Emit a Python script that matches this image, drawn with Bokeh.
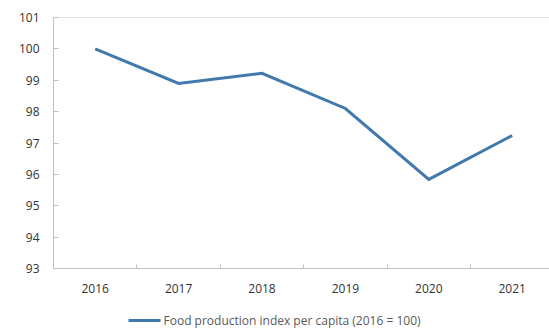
from bokeh.plotting import figure
from bokeh.layouts import column
from bokeh.models import FixedTicker, LinearAxis, Range1d, Span
from bokeh.core.properties import value
from bokeh.embed import file_html
from bokeh.resources import INLINE

years = [2016, 2017, 2018, 2019, 2020, 2021]
values = [100.0, 98.9, 99.22, 98.1, 95.84, 97.24]
y_ticks = [93, 94, 95, 96, 97, 98, 99, 100, 101]
series_label = "Food production index per capita (2016 = 100)"

FONT = "Open Sans"
AXIS_COLOR = "#c0c0c0"
TEXT_COLOR = "#333333"
LINE_COLOR = "#4179AD"

p = figure(width=549, height=304, output_backend="svg", toolbar_location=None,
           x_range=Range1d(years[0] - 0.5, years[-1] + 0.447),
           y_range=Range1d(y_ticks[0], y_ticks[-1]),
           min_border_left=53, min_border_right=0, min_border_top=17,
           min_border_bottom=36)
p.outline_line_color = None
p.grid.visible = False
p.xaxis.visible = False
p.yaxis.visible = False
p.renderers = []
p.below = []
p.left = []

r = p.line(years, values, line_color=LINE_COLOR, line_width=3, line_join="miter")

top_line = Span(location=y_ticks[-1], dimension="width", line_color=AXIS_COLOR, line_width=1)
p.add_layout(top_line)

# x axis: labels at centers, small inward ticks between categories
boundaries = [y - 0.5 for y in years] + [years[-1] + 0.5]
xaxis = LinearAxis(ticker=FixedTicker(ticks=years, minor_ticks=boundaries),
                   major_label_overrides={y: str(y) for y in years})
xaxis.axis_line_color = AXIS_COLOR
xaxis.major_tick_in = 0
xaxis.major_tick_out = 0
xaxis.minor_tick_in = 4
xaxis.minor_tick_out = 0
xaxis.minor_tick_line_color = AXIS_COLOR
xaxis.major_label_standoff = 15
xaxis.major_label_text_font = FONT
xaxis.major_label_text_font_size = "12px"
xaxis.major_label_text_color = TEXT_COLOR
p.add_layout(xaxis, "below")

yaxis = LinearAxis(ticker=FixedTicker(ticks=y_ticks))
yaxis.axis_line_color = AXIS_COLOR
yaxis.major_tick_in = 5
yaxis.major_tick_out = 0
yaxis.major_tick_line_color = AXIS_COLOR
yaxis.minor_tick_line_color = None
yaxis.major_label_standoff = 14
yaxis.major_label_text_font = FONT
yaxis.major_label_text_font_size = "12px"
yaxis.major_label_text_color = TEXT_COLOR
p.add_layout(yaxis, "left")

# legend strip below the chart; its frame is aligned with the chart frame (x 53..549)
leg = figure(width=549, height=24, output_backend="svg", toolbar_location=None,
             x_range=Range1d(53, 549), y_range=Range1d(0, 24),
             x_axis_type=None, y_axis_type=None,
             min_border_left=0, min_border_right=0, min_border_top=0,
             min_border_bottom=0)
leg.outline_line_color = None
leg.grid.visible = False
leg.line([128, 160], [8, 8], line_color=LINE_COLOR, line_width=3)
leg.text([163], [8], text=[series_label], text_baseline="middle", text_align="left",
         text_font=value(FONT), text_font_size="12px", text_color="#595959")

layout = column(p, leg, spacing=0)

open("out.html", "w").write(file_html(layout, INLINE))
